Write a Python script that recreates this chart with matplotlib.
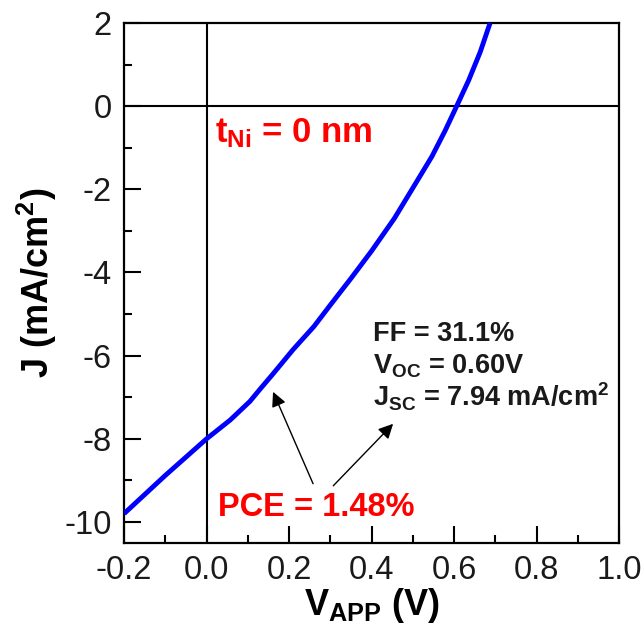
import numpy as np
import matplotlib
matplotlib.use('Agg')
import matplotlib.pyplot as plt
from matplotlib.ticker import MultipleLocator

# J-V curve
v_app = [-0.2, -0.1, 0.0, 0.057, 0.105, 0.13, 0.16, 0.21, 0.26, 0.30, 0.35,
         0.40, 0.455, 0.507, 0.546, 0.578, 0.606, 0.635, 0.663, 0.687]
j_dens = [-9.8, -8.88, -8.0, -7.55, -7.1, -6.8, -6.45, -5.85, -5.3, -4.78,
          -4.14, -3.48, -2.7, -1.85, -1.21, -0.59, 0.0, 0.62, 1.3, 2.0]

x_ticks = [-0.2, 0.0, 0.2, 0.4, 0.6, 0.8, 1.0]
y_ticks = [-10, -8, -6, -4, -2, 0, 2]

thickness_label = r'$\mathbf{t_{Ni}}$ = 0 nm'
pce_label = 'PCE = 1.48%'
metric_labels = ['FF = 31.1%',
                 r'$\mathbf{V_{OC}}$ = 0.60V',
                 r'$\mathbf{J_{SC}}$ = 7.94 mA/cm$^\mathbf{2}$']

plt.rcParams['font.family'] = ['Liberation Sans', 'DejaVu Sans']
plt.rcParams['axes.unicode_minus'] = False
plt.rcParams['mathtext.fontset'] = 'custom'
plt.rcParams['mathtext.rm'] = 'Liberation Sans'
plt.rcParams['mathtext.bf'] = 'Liberation Sans:bold'
plt.rcParams['mathtext.it'] = 'Liberation Sans:italic'

fig, ax = plt.subplots(figsize=(6.43, 6.40), dpi=100)
fig.subplots_adjust(left=0.193, right=0.963, bottom=0.152, top=0.964)

# zero lines
ax.axhline(0, color='k', lw=1.5, zorder=1)
ax.axvline(0, color='k', lw=1.5, zorder=1)

ax.plot(v_app, j_dens, color='#0000ff', lw=3.5, zorder=3,
        solid_joinstyle='round', solid_capstyle='butt')

ax.set_xlim(-0.2, 1.0)
ax.set_ylim(-10.5, 2)
ax.set_xticks(x_ticks)
ax.set_xticklabels([f'{t:.1f}' for t in x_ticks])
ax.set_yticks(y_ticks)
ax.xaxis.set_minor_locator(MultipleLocator(0.1))
ax.yaxis.set_minor_locator(MultipleLocator(1))
ax.tick_params(which='both', direction='in', top=False, right=False,
               width=1.5, labelsize=23.5, pad=9, labelcolor='#1a1a1a')
ax.tick_params(which='major', length=12)
ax.tick_params(which='minor', length=6)
for s in ax.spines.values():
    s.set_linewidth(1.6)

ax.set_xlabel(r'$\mathbf{V_{APP}}$ (V)', fontsize=26, fontweight='bold', labelpad=0)
ax.set_ylabel(r'J (mA/cm$^\mathbf{2}$)', fontsize=26, fontweight='bold', labelpad=4)

ax.text(0.02, -0.88, thickness_label, color='#ff0000', fontsize=25,
        fontweight='bold', va='baseline')
ax.text(0.028, -9.85, pce_label, color='#ff0000', fontsize=23.5,
        fontweight='bold', va='baseline')
for k, lab in enumerate(metric_labels):
    ax.text(0.404, -5.65 - 0.79 * k, lab, color='#1a1a1a', fontsize=19.5,
            fontweight='bold', va='baseline')

arrow = dict(arrowstyle='-|>', color='k', lw=1.0, mutation_scale=22,
             shrinkA=0, shrinkB=0)
ax.annotate('', xy=(0.161, -6.87), xytext=(0.258, -9.08), arrowprops=arrow)
ax.annotate('', xy=(0.452, -7.64), xytext=(0.307, -9.13), arrowprops=arrow)

fig.savefig('out.png', dpi=100)
